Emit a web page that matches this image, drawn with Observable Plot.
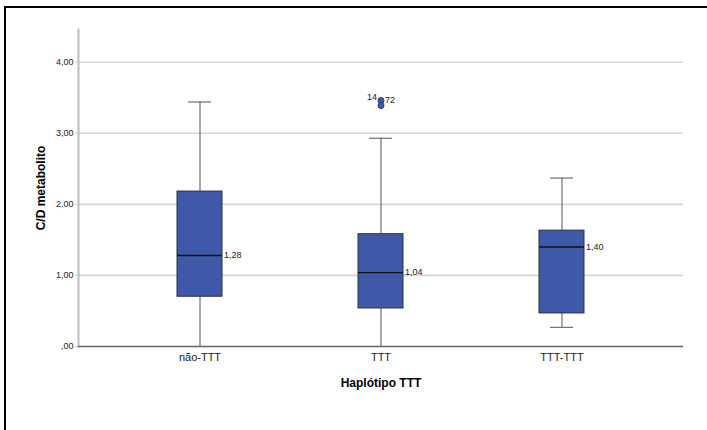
<!DOCTYPE html>
<html>
<head>
<meta charset="utf-8">
<script src="https://cdn.jsdelivr.net/npm/d3@7"></script>
<script src="https://cdn.jsdelivr.net/npm/@observablehq/plot@0.6"></script>
<style>
  html, body { margin: 0; padding: 0; background: #fff; }
  #wrap { position: relative; width: 707px; height: 430px; overflow: hidden; }
  #topline { position: absolute; left: 4px; top: 6px; width: 703px; height: 2px; background: #000; }
  #leftline { position: absolute; left: 4px; top: 6px; width: 2px; height: 424px; background: #000; }
  #chart svg { display: block; }
  [aria-label="y-axis label"] text, [aria-label="x-axis label"] text { font-weight: bold; font-size: 12px; fill: #000; }
</style>
</head>
<body>
<div id="wrap"><div id="chart"></div><div id="topline"></div><div id="leftline"></div></div>
<script>
const categories = ["não-TTT", "TTT", "TTT-TTT"];
const mins = [0, 0, 0.27];
const q1s = [0.70, 0.535, 0.465];
const medians = [1.28, 1.04, 1.40];
const q3s = [2.18, 1.58, 1.63];
const maxs = [3.44, 2.93, 2.37];
const medianLabels = ["1,28", "1,04", "1,40"];
const outlierCats = ["TTT", "TTT"];
const outlierValues = [3.46, 3.39];
const outlierLabels = ["14", "72"];
const yTicks = [0, 1, 2, 3, 4];

const boxes = categories.map((c, i) => ({
  cat: c, min: mins[i], q1: q1s[i], med: medians[i], q3: q3s[i], max: maxs[i], label: medianLabels[i]
}));
const outliers = outlierValues.map((v, i) => ({cat: outlierCats[i], v, label: outlierLabels[i]}));

const fmt = d => d === 0 ? ",00" : d.toFixed(2).replace(".", ",");
const font = "'Liberation Sans', Arial, sans-serif";

const chart = Plot.plot({
  width: 707,
  height: 430,
  marginLeft: 78,
  marginRight: 24,
  marginTop: 29,
  marginBottom: 84,
  style: {fontFamily: font, fontSize: "9px", color: "#222", background: "#fff"},
  x: {type: "band", domain: categories, paddingInner: 0.752, paddingOuter: 0.543, label: null},
  y: {domain: [0, 4.46], label: null},
  marks: [
    Plot.ruleY(yTicks.filter(d => d > 0), {stroke: "#d6d6d6", strokeWidth: 1.6}),
    Plot.frame({anchor: "left", stroke: "#bdbdbd", strokeWidth: 2}),
    Plot.axisY({ticks: yTicks, tickFormat: fmt, tickSize: 3, tickPadding: 2, stroke: "#ccc",
                label: "C/D metabolito", labelArrow: "none", labelAnchor: "center", labelOffset: 42, fontSize: 9}),
    Plot.axisX({tickSize: 0, tickPadding: 7, fontSize: 11, label: "Haplótipo TTT", labelArrow: "none", labelAnchor: "center", labelOffset: 40}),
    Plot.ruleX(boxes, {x: "cat", y1: "min", y2: "q1", stroke: "#555", strokeWidth: 1}),
    Plot.ruleX(boxes, {x: "cat", y1: "q3", y2: "max", stroke: "#555", strokeWidth: 1}),
    Plot.tickY(boxes, {x: "cat", y: "max", stroke: "#555", strokeWidth: 1, insetLeft: 11, insetRight: 11}),
    Plot.tickY(boxes, {x: "cat", y: "min", stroke: "#555", strokeWidth: 1, insetLeft: 11, insetRight: 11}),
    Plot.barY(boxes, {x: "cat", y1: "q1", y2: "q3", fill: "#3d59a7", stroke: "#2b2f45", strokeWidth: 1}),
    Plot.tickY(boxes, {x: "cat", y: "med", stroke: "#111", strokeWidth: 1.3}),
    Plot.text(boxes, {x: "cat", y: "med", text: "label", dx: 24, textAnchor: "start", fontSize: 9, fill: "#222"}),
    Plot.ruleY([0], {stroke: "#666", strokeWidth: 1.5}),
    Plot.dot(outliers, {x: "cat", y: "v", r: 3, fill: "#3d59a7", stroke: "#2b3a70", strokeWidth: 1}),
    Plot.text(outliers.slice(0, 1), {x: "cat", y: "v", text: "label", dx: -4, dy: -3, textAnchor: "end", fontSize: 9, fill: "#222"}),
    Plot.text(outliers.slice(1, 2), {x: "cat", y: "v", text: "label", dx: 4, dy: -5, textAnchor: "start", fontSize: 9, fill: "#222"})
  ]
});
document.getElementById("chart").appendChild(chart);
</script>
</body>
</html>
